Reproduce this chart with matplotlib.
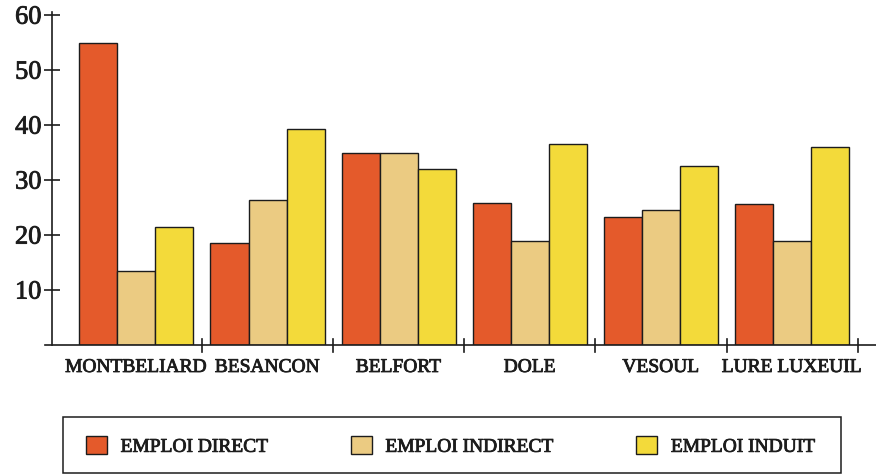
import numpy as np
from matplotlib import pyplot as plt
from matplotlib.patches import Rectangle
import matplotlib.patheffects as pe

# emploi par ville (lecture du graphique)
villes = ['MONTBELIARD', 'BESANCON', 'BELFORT', 'DOLE', 'VESOUL', 'LURE LUXEUIL']
emploi_direct = [55.0, 18.5, 35.0, 25.9, 23.3, 25.7]
emploi_indirect = [13.5, 26.4, 35.0, 18.9, 24.6, 18.9]
emploi_induit = [21.4, 39.3, 32.0, 36.5, 32.5, 36.1]
series_labels = ['EMPLOI DIRECT', 'EMPLOI INDIRECT', 'EMPLOI INDUIT']
yticks = [10, 20, 30, 40, 50, 60]

colors = ['#E45A2B', '#EBCB82', '#F3DA3A']
ink = '#1c1c1c'
heavy = [pe.withStroke(linewidth=0.6, foreground=ink)]  # texte un peu plus gras, comme l'original

plt.rcParams['font.family'] = ['Liberation Serif', 'DejaVu Serif']

fig = plt.figure(figsize=(8.76, 4.76), dpi=100)
ax = fig.add_axes([0.0, 0.275, 1.0, 0.70])

x = np.arange(len(villes))
w = 0.29
for k, (vals, c, lab) in enumerate(zip([emploi_direct, emploi_indirect, emploi_induit], colors, series_labels)):
    ax.bar(x + (k - 1) * w, vals, w, color=c, edgecolor=ink, linewidth=1.0, label=lab, zorder=2)

ax.set_xlim(-1.04, 5.64)
ax.set_ylim(0, 60.6)

for s in ['top', 'right', 'bottom']:
    ax.spines[s].set_visible(False)
ax.spines['left'].set_position(('data', -0.64))
ax.spines['left'].set_bounds(0, 60.6)
ax.spines['left'].set_linewidth(1.2)
ax.spines['left'].set_color(ink)

# axe horizontal + separateurs
ax.plot([-0.70, 5.64], [0, 0], color=ink, lw=1.2, clip_on=False, zorder=3)
for sep in x + 0.5:
    ax.plot([sep, sep], [-1.2, 1.2], color=ink, lw=1.2, clip_on=False, zorder=3)

ax.set_yticks(yticks)
ax.set_yticklabels([str(t) for t in yticks], fontsize=19, color=ink)
ax.tick_params(axis='y', direction='inout', length=12, width=1.2, color=ink, pad=2)
ax.set_xticks(x)
ax.set_xticklabels(villes, fontsize=14, color=ink)
ax.tick_params(axis='x', length=0, pad=10)
for t in ax.get_xticklabels() + ax.get_yticklabels():
    t.set_path_effects(heavy)

# cadre de la legende
fig.patches.append(Rectangle((63 / 876, 3 / 476), 778 / 876, 56 / 476,
                             transform=fig.transFigure, fill=False,
                             edgecolor=ink, linewidth=1.1))
leg = fig.legend(loc='center left', bbox_to_anchor=(86 / 876, 30 / 476),
                 ncol=3, fontsize=14, frameon=False,
                 handlelength=1.08, handleheight=1.05, handletextpad=0.7,
                 columnspacing=4.2, borderpad=0, borderaxespad=0)
for t in leg.get_texts():
    t.set_color(ink)
    t.set_path_effects(heavy)

plt.savefig('out.png', dpi=100)
